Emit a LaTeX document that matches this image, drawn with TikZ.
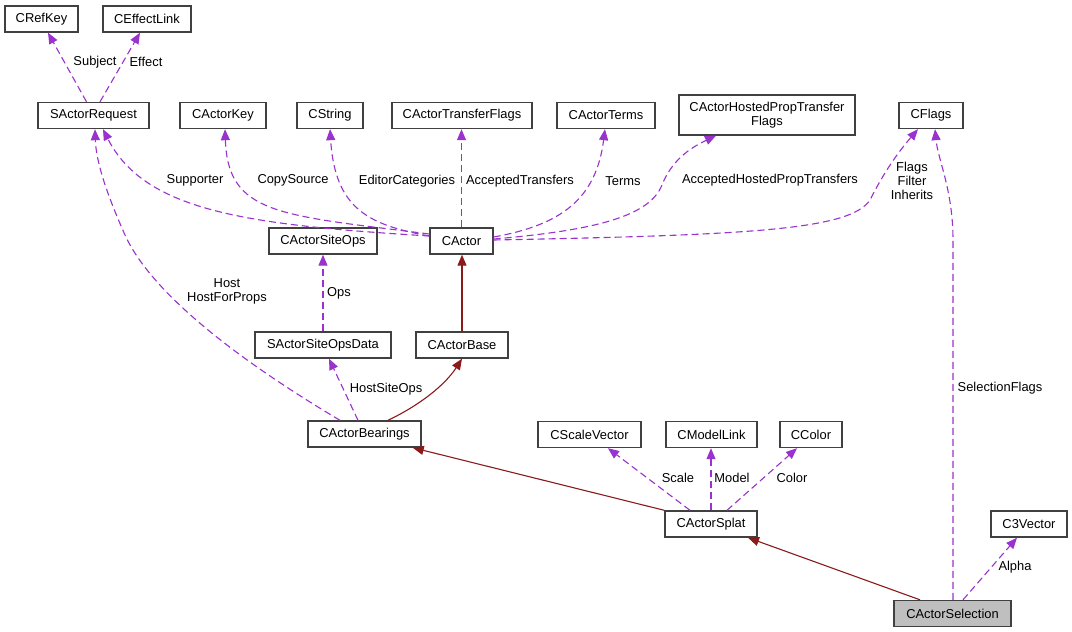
\documentclass[tikz,border=0pt]{standalone}
\usepackage{fontspec}
\setmainfont{Liberation Sans}
\usetikzlibrary{arrows.meta}
\definecolor{edgepurple}{HTML}{9A32CD}
\definecolor{inhred}{HTML}{8B1A1A}
\definecolor{boxborder}{HTML}{404040}
\definecolor{selfill}{HTML}{BFBFBF}
\begin{document}
\begin{tikzpicture}[x=1pt,y=-1pt,
  cls/.style={draw=boxborder, line width=1.4pt, fill=white, inner sep=0pt,
    minimum height=26pt, font=\fontsize{12.9}{14}\selectfont, align=center},
  usage/.style={draw=edgepurple, line width=1.1pt, dash pattern=on 7pt off 4pt,
    -{Triangle[length=11pt,width=9pt]}},
  inh/.style={draw=inhred, line width=1.1pt, -{Triangle[length=11pt,width=9pt]}},
  lbl/.style={inner sep=0pt, font=\fontsize{12.9}{14}\selectfont, align=center}
]
\useasboundingbox[fill=white] (0,0) rectangle (1072,632);

% nodes
\node[cls, minimum width=73pt] (CRefKey) at (41.5,19) {CRefKey};
\node[cls, minimum width=88pt] (CEffectLink) at (147,19) {CEffectLink};
\node[cls, minimum width=111pt] (SActorRequest) at (93.5,115.5) {SActorRequest};
\node[cls, minimum width=86pt] (CActorKey) at (223,115.5) {CActorKey};
\node[cls, minimum width=66pt] (CString) at (330,115.5) {CString};
\node[cls, minimum width=140pt] (CActorTransferFlags) at (462,115.5) {CActorTransferFlags};
\node[cls, minimum width=98pt] (CActorTerms) at (606,115.5) {CActorTerms};
\node[cls, minimum width=176pt, minimum height=40pt] (CActorHostedProp) at (767,115) {CActorHostedPropTransfer\\Flags};
\node[cls, minimum width=64pt] (CFlags) at (931,115.5) {CFlags};
\node[cls, minimum width=108pt] (CActorSiteOps) at (323,241) {CActorSiteOps};
\node[cls, minimum width=63pt] (CActor) at (461.5,241) {CActor};
\node[cls, minimum width=136pt] (SActorSiteOpsData) at (323,345) {SActorSiteOpsData};
\node[cls, minimum width=92pt] (CActorBase) at (462,345) {CActorBase};
\node[cls, minimum width=113pt] (CActorBearings) at (364.5,434) {CActorBearings};
\node[cls, minimum width=103pt] (CScaleVector) at (589.5,434.5) {CScaleVector};
\node[cls, minimum width=91pt] (CModelLink) at (711.5,434.5) {CModelLink};
\node[cls, minimum width=62pt] (CColor) at (811,434.5) {CColor};
\node[cls, minimum width=92pt] (CActorSplat) at (711,524) {CActorSplat};
\node[cls, minimum width=76pt] (C3Vector) at (1029,524) {C3Vector};
\node[cls, minimum width=117pt, fill=selfill] (CActorSelection) at (952.5,613.5) {CActorSelection};

% usage edges
\draw[usage] ([xshift=-7pt]SActorRequest.north) -- ([xshift=6.5pt]CRefKey.south);
\draw[usage] ([xshift=6.5pt]SActorRequest.north) -- ([xshift=-7pt]CEffectLink.south);
\draw[usage] ([yshift=5pt]CActor.west) .. controls (250,225) and (145,212) .. ([xshift=9.5pt]SActorRequest.south);
\draw[usage] ([yshift=7pt]CActor.west) .. controls (280,215) and (228,215) .. ([xshift=2pt]CActorKey.south);
\draw[usage] ([yshift=5pt]CActor.west) .. controls (370,225) and (335,210) .. (CString.south);
\draw[usage] (CActor.north) -- (CActor.north |- CActorTransferFlags.south);
\draw[usage] ([yshift=4pt]CActor.east) .. controls (560,225) and (596,200) .. ([xshift=-1pt]CActorTerms.south);
\draw[usage] ([yshift=2pt]CActor.east) .. controls (600,230) and (650,215) .. (662,185)
   .. controls (672,160) and (690,148) .. ([xshift=-51pt]CActorHostedProp.south);
\draw[usage] ([yshift=1pt]CActor.east) .. controls (750,235) and (850,230) .. (870,200)
   .. controls (885,170) and (900,150) .. ([xshift=-13pt]CFlags.south);
\draw[usage] ([xshift=0.5pt]CActorSelection.north) -- (953,240) .. controls (953,190) and (938,160) .. ([xshift=4pt]CFlags.south);
\draw[usage] (SActorSiteOpsData.north) -- (CActorSiteOps.south);
\draw[usage] ([xshift=-24.5pt]CActorBearings.north) .. controls (230,355) and (150,290) .. (125,235)
   .. controls (105,190) and (96,160) .. ([xshift=1.5pt]SActorRequest.south);
\draw[usage] ([xshift=-6.5pt]CActorBearings.north) -- ([xshift=6pt]SActorSiteOpsData.south);
\draw[usage] ([xshift=-21pt]CActorSplat.north) -- ([xshift=18.5pt]CScaleVector.south);
\draw[usage] (CActorSplat.north) -- (CActorSplat.north |- CModelLink.south);
\draw[usage] ([xshift=16pt]CActorSplat.north) -- ([xshift=-14pt]CColor.south);
\draw[usage] ([xshift=10.5pt]CActorSelection.north) -- ([xshift=-12pt]C3Vector.south);

% inheritance edges
\draw[inh] ([xshift=23.5pt]CActorBearings.north) .. controls (420,405) and (445,385) .. (CActorBase.south);
\draw[inh] (CActorBase.north) -- (CActorBase.north |- CActor.south);
\draw[inh] (CActorSplat.north west) -- ([xshift=-9pt]CActorBearings.south east);
\draw[inh] ([xshift=-32.5pt]CActorSelection.north) -- ([xshift=37pt]CActorSplat.south);

% labels
\node[lbl] (lSubject) at (95,62) {Subject};
\node[lbl] (lEffect) at (146,62) {Effect};
\node[lbl] (lSupporter) at (195,180) {Supporter};
\node[lbl] (lCopySource) at (293,180) {CopySource};
\node[lbl] (lEditor) at (407,181) {EditorCategories};
\node[lbl] (lAccepted) at (520,181) {AcceptedTransfers};
\node[lbl] (lTerms) at (623,181) {Terms};
\node[lbl] (lHosted) at (770,180) {AcceptedHostedPropTransfers};
\node[lbl] (lFlags) at (912,181) {Flags\\Filter\\Inherits};
\node[lbl] (lSelFlags) at (1000,388) {SelectionFlags};
\node[lbl] (lHost) at (227,291) {Host\\HostForProps};
\node[lbl] (lOps) at (339,293) {Ops};
\node[lbl] (lHostSiteOps) at (386,389) {HostSiteOps};
\node[lbl] (lScale) at (678,478) {Scale};
\node[lbl] (lModel) at (732,478) {Model};
\node[lbl] (lColor) at (792,478) {Color};
\node[lbl] (lAlpha) at (1015,567) {Alpha};
\end{tikzpicture}
\end{document}
